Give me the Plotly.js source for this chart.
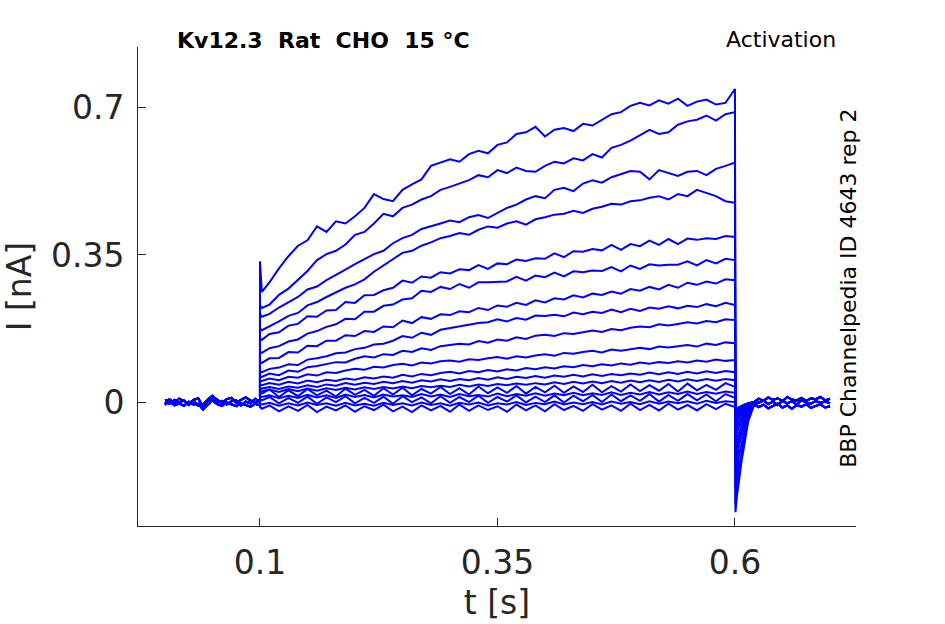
<!DOCTYPE html>
<html>
<head>
<meta charset="utf-8">
<script src="https://cdn.plot.ly/plotly-3.0.1.min.js"></script>
<style>
  html, body { margin: 0; padding: 0; background: #fff; }
  #chart { width: 945px; height: 624px; }
</style>
</head>
<body>
<div id="chart"></div>
<script>
// time bases (s)
const tPre = [0, 0.005, 0.01, 0.015, 0.02, 0.025, 0.03, 0.035, 0.04, 0.045, 0.05,
  0.055, 0.06, 0.065, 0.07, 0.075, 0.08, 0.085, 0.09, 0.095, 0.1];
const tStep = [0.1, 0.102, 0.11, 0.12, 0.13, 0.14, 0.15, 0.16, 0.17, 0.18, 0.19, 0.2,
  0.21, 0.22, 0.23, 0.24, 0.25, 0.26, 0.27, 0.28, 0.29, 0.3, 0.31, 0.32, 0.33, 0.34, 0.35,
  0.36, 0.37, 0.38, 0.39, 0.4, 0.41, 0.42, 0.43, 0.44, 0.45, 0.46, 0.47, 0.48, 0.49, 0.5,
  0.51, 0.52, 0.53, 0.54, 0.55, 0.56, 0.57, 0.58, 0.59, 0.6];
const tTail = [0.6005, 0.602, 0.604, 0.607, 0.61, 0.614, 0.62];
const tPost = [0.625, 0.63, 0.635, 0.64, 0.645, 0.65, 0.655, 0.66, 0.665, 0.67, 0.675,
  0.68, 0.685, 0.69, 0.695, 0.7];

// holding baseline (nA)
const preA = [0.004, 0.006, -0.002, 0.008, 0.003, -0.004, 0.005, 0.009, -0.012, 0.002, 0.012,
  0.006, -0.003, 0.007, 0.010, -0.002, 0.005, 0.011, 0.004, -0.003, 0.006];
const preB = [-0.006, 0.002, -0.008, -0.003, -0.009, 0.001, -0.006, -0.004, -0.018, -0.008, 0.004,
  -0.005, -0.009, -0.001, -0.006, -0.010, -0.003, -0.007, -0.011, -0.004, -0.008];
const preC = [0.0, -0.004, 0.005, -0.001, 0.004, -0.007, 0.002, -0.009, -0.006, 0.006, 0.015,
  -0.002, 0.003, -0.006, 0.002, 0.004, -0.008, 0.001, -0.003, 0.008, 0.0];
const postA = [0.008, 0.003, 0.011, 0.005, 0.009, 0.002, 0.012, 0.006, 0.004, 0.010, 0.003,
  0.009, 0.007, 0.012, 0.004, 0.008];
const postB = [-0.012, -0.006, -0.015, -0.009, -0.004, -0.013, -0.008, -0.016, -0.007, -0.011,
  -0.005, -0.014, -0.009, -0.006, -0.013, -0.01];
const postC = [-0.002, 0.004, -0.005, 0.001, -0.007, 0.003, -0.003, 0.002, -0.006, 0.005,
  -0.001, -0.004, 0.003, -0.002, 0.001, -0.003];

// current during the voltage step, one row per sweep (nA)
const stepI = [
  [0.335, 0.262, 0.285, 0.318, 0.347, 0.372, 0.385, 0.418, 0.405, 0.43, 0.425, 0.442, 0.462, 0.495, 0.483, 0.478, 0.505, 0.518, 0.53, 0.562, 0.57, 0.578, 0.572, 0.59, 0.598, 0.592, 0.612, 0.618, 0.638, 0.642, 0.655, 0.632, 0.648, 0.652, 0.645, 0.662, 0.658, 0.672, 0.685, 0.69, 0.705, 0.712, 0.706, 0.718, 0.71, 0.722, 0.705, 0.715, 0.72, 0.708, 0.712, 0.745],
  [0.23, 0.224, 0.232, 0.255, 0.27, 0.29, 0.312, 0.338, 0.352, 0.36, 0.375, 0.398, 0.405, 0.425, 0.448, 0.442, 0.462, 0.47, 0.482, 0.49, 0.505, 0.512, 0.52, 0.528, 0.54, 0.535, 0.552, 0.545, 0.558, 0.55, 0.548, 0.562, 0.572, 0.568, 0.58, 0.575, 0.59, 0.582, 0.605, 0.612, 0.622, 0.635, 0.648, 0.638, 0.642, 0.66, 0.668, 0.672, 0.682, 0.67, 0.685, 0.69],
  [0.21, 0.203, 0.21, 0.225, 0.238, 0.25, 0.268, 0.275, 0.29, 0.302, 0.315, 0.328, 0.34, 0.352, 0.36, 0.378, 0.39, 0.398, 0.412, 0.418, 0.425, 0.432, 0.428, 0.44, 0.445, 0.438, 0.45, 0.462, 0.47, 0.482, 0.49, 0.485, 0.505, 0.51, 0.502, 0.52, 0.528, 0.522, 0.535, 0.542, 0.55, 0.548, 0.53, 0.552, 0.545, 0.538, 0.548, 0.55, 0.54, 0.555, 0.562, 0.57],
  [0.175, 0.171, 0.18, 0.192, 0.205, 0.212, 0.23, 0.238, 0.25, 0.262, 0.272, 0.28, 0.292, 0.31, 0.325, 0.342, 0.355, 0.36, 0.372, 0.38, 0.39, 0.395, 0.402, 0.398, 0.41, 0.418, 0.415, 0.425, 0.43, 0.422, 0.435, 0.44, 0.446, 0.448, 0.455, 0.45, 0.46, 0.465, 0.472, 0.47, 0.478, 0.48, 0.486, 0.49, 0.482, 0.495, 0.49, 0.505, 0.498, 0.49, 0.478, 0.474],
  [0.152, 0.148, 0.162, 0.166, 0.182, 0.186, 0.204, 0.203, 0.218, 0.219, 0.238, 0.236, 0.254, 0.255, 0.266, 0.272, 0.289, 0.284, 0.299, 0.296, 0.309, 0.306, 0.316, 0.314, 0.326, 0.317, 0.33, 0.328, 0.339, 0.336, 0.342, 0.341, 0.354, 0.345, 0.359, 0.358, 0.364, 0.361, 0.374, 0.362, 0.376, 0.371, 0.384, 0.374, 0.388, 0.376, 0.389, 0.386, 0.39, 0.388, 0.395, 0.393],
  [0.12, 0.117, 0.128, 0.133, 0.144, 0.149, 0.163, 0.169, 0.179, 0.185, 0.198, 0.197, 0.215, 0.215, 0.229, 0.232, 0.244, 0.247, 0.265, 0.262, 0.274, 0.269, 0.281, 0.272, 0.285, 0.285, 0.286, 0.287, 0.298, 0.289, 0.301, 0.297, 0.308, 0.299, 0.311, 0.309, 0.313, 0.312, 0.321, 0.311, 0.325, 0.317, 0.328, 0.325, 0.327, 0.327, 0.335, 0.325, 0.338, 0.33, 0.341, 0.338],
  [0.095, 0.093, 0.104, 0.105, 0.119, 0.118, 0.134, 0.133, 0.146, 0.146, 0.159, 0.157, 0.169, 0.167, 0.18, 0.178, 0.194, 0.188, 0.202, 0.198, 0.209, 0.207, 0.216, 0.214, 0.224, 0.219, 0.23, 0.227, 0.236, 0.231, 0.242, 0.237, 0.247, 0.244, 0.254, 0.249, 0.258, 0.255, 0.263, 0.258, 0.269, 0.265, 0.274, 0.268, 0.279, 0.272, 0.284, 0.279, 0.287, 0.282, 0.292, 0.29],
  [0.073, 0.071, 0.079, 0.082, 0.09, 0.088, 0.101, 0.104, 0.109, 0.116, 0.118, 0.126, 0.129, 0.137, 0.139, 0.146, 0.157, 0.153, 0.165, 0.16, 0.172, 0.176, 0.18, 0.184, 0.188, 0.19, 0.197, 0.192, 0.2, 0.196, 0.206, 0.205, 0.208, 0.204, 0.213, 0.209, 0.215, 0.212, 0.22, 0.214, 0.222, 0.217, 0.225, 0.222, 0.228, 0.223, 0.229, 0.226, 0.233, 0.228, 0.236, 0.231],
  [0.062, 0.06, 0.068, 0.064, 0.075, 0.072, 0.083, 0.086, 0.09, 0.095, 0.094, 0.103, 0.109, 0.106, 0.114, 0.112, 0.122, 0.119, 0.128, 0.124, 0.133, 0.136, 0.139, 0.137, 0.145, 0.141, 0.149, 0.146, 0.154, 0.15, 0.158, 0.16, 0.157, 0.164, 0.162, 0.166, 0.17, 0.167, 0.174, 0.171, 0.177, 0.18, 0.178, 0.185, 0.182, 0.186, 0.19, 0.187, 0.193, 0.19, 0.197, 0.195],
  [0.052, 0.05, 0.056, 0.052, 0.06, 0.058, 0.066, 0.063, 0.071, 0.069, 0.075, 0.079, 0.077, 0.084, 0.082, 0.088, 0.091, 0.087, 0.094, 0.092, 0.097, 0.099, 0.096, 0.102, 0.1, 0.104, 0.107, 0.103, 0.109, 0.106, 0.111, 0.114, 0.11, 0.117, 0.115, 0.119, 0.122, 0.118, 0.125, 0.122, 0.126, 0.129, 0.126, 0.132, 0.13, 0.133, 0.136, 0.132, 0.139, 0.136, 0.142, 0.14],
  [0.042, 0.04, 0.045, 0.041, 0.048, 0.044, 0.051, 0.047, 0.053, 0.05, 0.056, 0.053, 0.059, 0.056, 0.061, 0.058, 0.065, 0.061, 0.067, 0.064, 0.069, 0.072, 0.068, 0.074, 0.071, 0.076, 0.073, 0.078, 0.075, 0.081, 0.078, 0.083, 0.08, 0.085, 0.083, 0.088, 0.085, 0.09, 0.087, 0.092, 0.089, 0.094, 0.091, 0.095, 0.093, 0.097, 0.094, 0.099, 0.096, 0.101, 0.098, 0.1],
  [0.034, 0.032, 0.036, 0.031, 0.037, 0.034, 0.04, 0.036, 0.042, 0.039, 0.045, 0.041, 0.046, 0.043, 0.048, 0.045, 0.05, 0.046, 0.052, 0.049, 0.054, 0.05, 0.055, 0.052, 0.057, 0.053, 0.059, 0.055, 0.06, 0.057, 0.062, 0.058, 0.063, 0.06, 0.065, 0.061, 0.066, 0.062, 0.067, 0.064, 0.068, 0.065, 0.07, 0.066, 0.071, 0.067, 0.072, 0.068, 0.073, 0.069, 0.074, 0.071],
  [0.027, 0.025, 0.03, 0.024, 0.031, 0.026, 0.032, 0.027, 0.033, 0.029, 0.034, 0.03, 0.035, 0.031, 0.036, 0.032, 0.037, 0.033, 0.038, 0.035, 0.039, 0.036, 0.041, 0.037, 0.042, 0.038, 0.043, 0.04, 0.044, 0.041, 0.045, 0.042, 0.047, 0.043, 0.048, 0.044, 0.049, 0.045, 0.05, 0.046, 0.051, 0.047, 0.052, 0.048, 0.053, 0.049, 0.054, 0.05, 0.055, 0.051, 0.055, 0.052],
  [0.024, 0.02, 0.03, 0.012, 0.028, 0.014, 0.031, 0.016, 0.027, 0.013, 0.032, 0.017, 0.029, 0.015, 0.033, 0.018, 0.034, 0.016, 0.031, 0.02, 0.036, 0.019, 0.033, 0.018, 0.037, 0.021, 0.035, 0.022, 0.038, 0.02, 0.036, 0.023, 0.039, 0.022, 0.037, 0.024, 0.041, 0.023, 0.038, 0.025, 0.042, 0.026, 0.04, 0.027, 0.043, 0.025, 0.044, 0.028, 0.041, 0.029, 0.045, 0.036],
  [0.014, 0.012, 0.016, 0.009, 0.015, 0.01, 0.017, 0.011, 0.016, 0.01, 0.018, 0.012, 0.017, 0.011, 0.018, 0.013, 0.016, 0.012, 0.019, 0.013, 0.018, 0.012, 0.019, 0.014, 0.017, 0.013, 0.02, 0.014, 0.019, 0.015, 0.021, 0.015, 0.02, 0.016, 0.022, 0.016, 0.021, 0.017, 0.023, 0.017, 0.022, 0.018, 0.024, 0.018, 0.023, 0.019, 0.025, 0.019, 0.024, 0.02, 0.025, 0.022],
  [0.008, 0.004, 0.012, -0.003, 0.01, -0.002, 0.013, -0.004, 0.011, 0.0, 0.014, -0.003, 0.01, -0.002, 0.013, -0.004, 0.014, 0.0, 0.011, -0.003, 0.014, -0.002, 0.012, 0.0, 0.015, -0.002, 0.012, 0.001, 0.016, -0.001, 0.013, 0.0, 0.016, -0.001, 0.015, 0.002, 0.017, 0.0, 0.018, 0.002, 0.016, 0.003, 0.019, 0.001, 0.017, 0.003, 0.019, 0.004, 0.018, 0.002, 0.019, 0.01],
  [-0.004, -0.006, -0.002, -0.009, -0.003, -0.008, -0.001, -0.007, -0.003, -0.009, -0.002, -0.008, -0.004, -0.009, -0.002, -0.007, -0.003, -0.008, -0.001, -0.007, -0.003, -0.009, -0.002, -0.006, -0.001, -0.008, -0.003, -0.006, 0.0, -0.007, -0.002, -0.005, 0.001, -0.006, -0.001, -0.005, 0.0, -0.006, 0.001, -0.004, 0.0, -0.005, 0.002, -0.004, 0.001, -0.003, 0.002, -0.004, 0.003, -0.002, 0.002, 0.0],
  [-0.012, -0.016, -0.008, -0.022, -0.01, -0.021, -0.007, -0.024, -0.011, -0.02, -0.008, -0.023, -0.01, -0.019, -0.006, -0.022, -0.011, -0.024, -0.008, -0.02, -0.009, -0.023, -0.006, -0.021, -0.008, -0.019, -0.01, -0.023, -0.006, -0.02, -0.008, -0.022, -0.005, -0.019, -0.009, -0.021, -0.005, -0.018, -0.008, -0.021, -0.004, -0.019, -0.007, -0.02, -0.004, -0.018, -0.007, -0.02, -0.005, -0.017, -0.004, -0.012]
];

// tail current after repolarisation, one row per sweep (nA)
const tailI = [
  [-0.262, -0.225, -0.185, -0.14, -0.1, -0.045, -0.008],
  [-0.245, -0.2, -0.16, -0.12, -0.085, -0.04, -0.006],
  [-0.2, -0.165, -0.13, -0.1, -0.07, -0.035, -0.005],
  [-0.165, -0.135, -0.105, -0.08, -0.055, -0.028, -0.004],
  [-0.135, -0.11, -0.09, -0.065, -0.045, -0.022, -0.003],
  [-0.115, -0.092, -0.075, -0.055, -0.038, -0.018, -0.002],
  [-0.095, -0.075, -0.06, -0.045, -0.03, -0.015, -0.002],
  [-0.08, -0.062, -0.05, -0.038, -0.025, -0.012, 0.0],
  [-0.065, -0.05, -0.04, -0.03, -0.02, -0.01, 0.0],
  [-0.052, -0.04, -0.032, -0.024, -0.016, -0.008, 0.0],
  [-0.042, -0.033, -0.026, -0.02, -0.013, -0.006, 0.0],
  [-0.036, -0.028, -0.022, -0.016, -0.011, -0.005, 0.0],
  [-0.032, -0.025, -0.02, -0.015, -0.01, -0.005, 0.0],
  [-0.028, -0.022, -0.018, -0.013, -0.009, -0.004, 0.0],
  [-0.025, -0.02, -0.016, -0.012, -0.008, -0.004, 0.0],
  [-0.022, -0.018, -0.014, -0.01, -0.007, -0.003, 0.0],
  [-0.02, -0.016, -0.013, -0.01, -0.007, -0.003, 0.0],
  [-0.018, -0.015, -0.012, -0.009, -0.006, -0.003, 0.0]
];

const xTicks = [0.1, 0.35, 0.6];
const xTickText = ['0.1', '0.35', '0.6'];
const yTicks = [0, 0.35, 0.7];
const yTickText = ['0', '0.35', '0.7'];

const pres = [preA, preB, preC];
const posts = [postA, postB, postC];
const axisColor = '#262626';
const FONT = 'DejaVu Sans, Liberation Sans, sans-serif';

const x = tPre.concat(tStep, tTail, tPost);
const traces = stepI.map((row, i) => ({
  x,
  y: pres[i % 3].concat(row, tailI[i], posts[(i + 1) % 3]),
  type: 'scatter',
  mode: 'lines',
  line: { color: '#0000FF', width: 2 },
  hoverinfo: 'skip',
  showlegend: false
}));

const layout = {
  width: 945,
  height: 624,
  margin: { l: 138, r: 89, t: 47, b: 98 },
  paper_bgcolor: '#fff',
  plot_bgcolor: '#fff',
  font: { family: FONT, color: axisColor },
  showlegend: false,
  xaxis: {
    range: [-0.0284, 0.7274],
    tickmode: 'array', tickvals: xTicks, ticktext: xTickText,
    ticks: 'inside', ticklen: 8, tickcolor: axisColor, tickwidth: 1,
    showline: true, linecolor: axisColor, linewidth: 1,
    showgrid: false, zeroline: false,
    tickfont: { size: 33, color: axisColor },
    ticklabelstandoff: 7,
    title: { text: 't [s]', font: { size: 33, color: axisColor }, standoff: 10 }
  },
  yaxis: {
    range: [-0.295, 0.845],
    tickmode: 'array', tickvals: yTicks, ticktext: yTickText,
    ticks: 'inside', ticklen: 8, tickcolor: axisColor, tickwidth: 1,
    showline: true, linecolor: axisColor, linewidth: 1,
    showgrid: false, zeroline: false,
    tickfont: { size: 33, color: axisColor },
    ticklabelstandoff: 6,
    title: { text: 'I [nA]', font: { size: 33, color: axisColor }, standoff: 12 }
  },
  annotations: [
    {
      text: '<b>Kv12.3\u00a0\u00a0Rat\u00a0\u00a0CHO\u00a0\u00a015 °C</b>',
      xref: 'paper', yref: 'paper', x: 0.0515, y: 1.0146,
      xanchor: 'left', yanchor: 'middle', showarrow: false,
      font: { size: 22, color: '#000' }
    },
    {
      text: 'Activation',
      xref: 'paper', yref: 'paper', x: 0.975, y: 1.0167,
      xanchor: 'right', yanchor: 'middle', showarrow: false,
      font: { size: 22, color: '#000' }
    },
    {
      text: 'BBP Channelpedia ID 4643 rep 2',
      xref: 'paper', yref: 'paper', x: 0.990, y: 0.497,
      xanchor: 'center', yanchor: 'middle', showarrow: false,
      textangle: -90,
      font: { size: 22, color: '#000' }
    }
  ]
};

Plotly.newPlot('chart', traces, layout, { displayModeBar: false, staticPlot: true });
</script>
</body>
</html>
